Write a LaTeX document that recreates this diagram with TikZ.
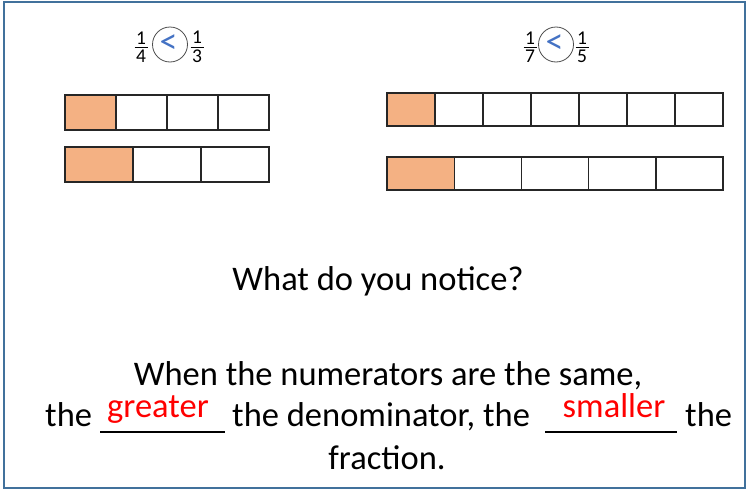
\documentclass[tikz,border=0pt]{standalone}
\usepackage{fontspec}
\setmainfont{Carlito}
\definecolor{frame}{HTML}{41719C}
\definecolor{peach}{HTML}{F4B183}
\definecolor{ltblue}{HTML}{4472C4}
\newcommand{\fr}[2]{\vbox{\hbox to 13pt{\hss #1\hss}\kern2.8pt\hrule height 0.8pt\kern2.2pt\hbox to 13pt{\hss #2\hss}}}
\begin{document}
\begin{tikzpicture}[x=1pt,y=-1pt,
  cell/.style={draw=black!85, line width=1.4pt},
  body/.style={font=\fontsize{34.5}{36}\selectfont, inner sep=0pt, anchor=base},
  answer/.style={font=\fontsize{34.5}{36}\selectfont, inner sep=0pt, anchor=base, text=red},
  digit/.style={font=\fontsize{19.5}{21}\selectfont, inner sep=0pt},
  ring/.style={draw=black!70, line width=0.8pt, circle, minimum size=35pt, inner sep=0pt,
    text=ltblue, font=\fontsize{36}{38}\selectfont},
  blank/.style={line width=1.4pt}]
\useasboundingbox (0,0) rectangle (747,490);
\fill[white] (0,0) rectangle (747,490);
\draw[frame, line width=2pt] (3.5,2) rectangle (745,488);

% fractions
\node[digit] (fa) at (141,47) {\fr{1}{4}};
\node[digit] (fb) at (197,47) {\fr{1}{3}};
\node[ring] (ca) at (170,44.5) {\kern-2pt<\kern1pt};
\node[digit] (fc) at (530,47) {\fr{1}{7}};
\node[digit] (fd) at (582,47) {\fr{1}{5}};
\node[ring] (cb) at (556,44.5) {\kern-2pt<\kern1pt};

% bars
\newcommand{\fracbar}[5]{% x0, x1, y0, y1, n
  \pgfmathsetmacro{\w}{(#2-#1)/#5}
  \fill[peach] (#1,#3) rectangle (#1+\w,#4);
  \foreach \i in {1,...,#5} {
    \draw[cell] ({#1+(\i-1)*\w},#3) rectangle ({#1+\i*\w},#4);
  }}
\fracbar{65}{269}{95}{130}{4}
\fracbar{65}{269}{147}{182}{3}
\fracbar{387}{723}{93}{126}{7}
\fracbar{387}{723}{157}{190}{5}

% text
\node[body] (q) at (378,290) {What do you notice?};
\node[body] (l1) at (388,385) {When the numerators are the same,};
\node[body, anchor=base west] (t1) at (45,426) {the};
\coordinate (u1a) at (100,432);
\coordinate (u1b) at (225,432);
\draw[blank] (u1a) -- (u1b);
\node[answer] (g) at (158,417) {greater};
\node[body, anchor=base west] (t2) at (232,426) {the denominator, the};
\coordinate (u2a) at (545,432);
\coordinate (u2b) at (677,432);
\draw[blank] (u2a) -- (u2b);
\node[answer] (s) at (614,417) {smaller};
\node[body, anchor=base west] (t3) at (685,426) {the};
\node[body] (l3) at (387,469) {fraction.};
\end{tikzpicture}
\end{document}
